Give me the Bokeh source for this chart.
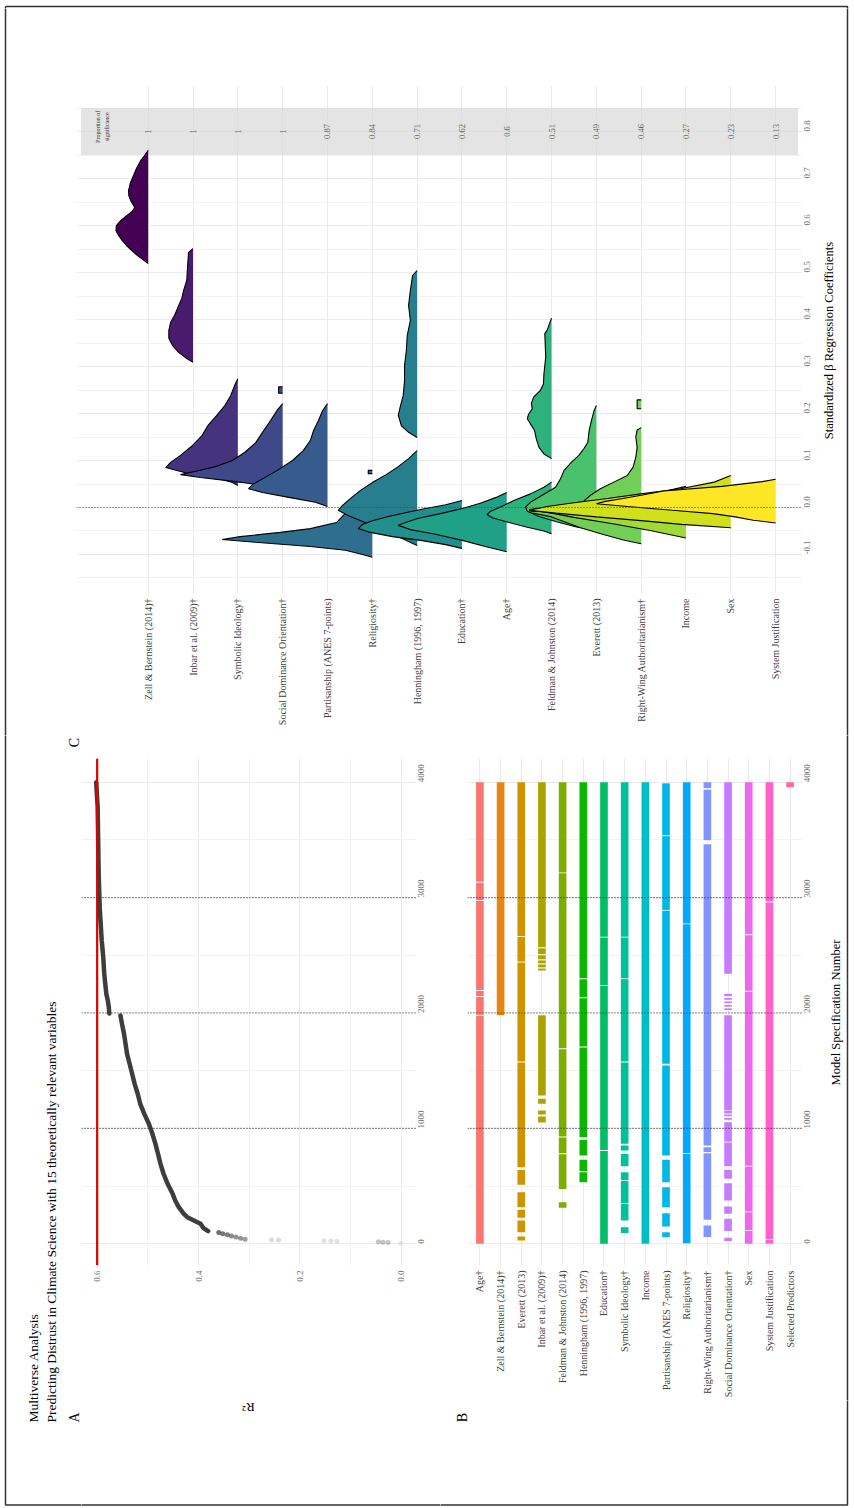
import math
from bokeh.plotting import figure
from bokeh.models import Range1d, FixedTicker, NumeralTickFormatter, Span
from bokeh.layouts import column, row
from bokeh.core.properties import value
from bokeh.embed import file_html
from bokeh.resources import INLINE

NAN = float("nan")
FONT = "Liberation Serif"

# ---------------- Panel A : R2 by model specification ----------------
FULL_MODEL_R2 = 0.60
SPEC_MARKS = [1000, 2000, 3000]
SPEC_TICKS = [0, 1000, 2000, 3000, 4000]
SPEC_MINOR = [500, 1500, 2500, 3500]
R2_TICKS = [0.0, 0.2, 0.4, 0.6]
R2_MINOR = [0.1, 0.3, 0.5]

CURVE1_SPEC = [110, 135, 173, 202, 231, 260, 318, 375, 433, 520, 607, 693, 780, 866,
               953, 1040, 1126, 1213, 1300, 1386, 1473, 1560, 1646, 1733, 1820, 1906, 1978]
CURVE1_R2 = [0.381, 0.390, 0.396, 0.409, 0.422, 0.429, 0.439, 0.446, 0.451, 0.461, 0.469,
             0.475, 0.480, 0.485, 0.491, 0.498, 0.507, 0.515, 0.520, 0.526, 0.531, 0.536,
             0.541, 0.544, 0.547, 0.551, 0.554]
CURVE2_SPEC = [1995, 2050, 2108, 2166, 2253, 2339, 2484, 2628, 2772, 2917, 3061, 3206,
               3494, 3783, 4000]
CURVE2_R2 = [0.576, 0.577, 0.579, 0.582, 0.584, 0.586, 0.588, 0.591, 0.593, 0.595, 0.596,
             0.597, 0.598, 0.599, 0.602]
LOW_SPEC = [98, 88, 78, 68, 58, 48, 40, 36, 33, 27, 25, 22, 17, 14, 11, 5]
LOW_R2 = [0.360, 0.352, 0.343, 0.335, 0.326, 0.317, 0.308, 0.256, 0.242, 0.152, 0.139,
          0.127, 0.045, 0.036, 0.026, 0.001]
LOW_ALPHA = [0.75, 0.7, 0.65, 0.6, 0.55, 0.55, 0.5, 0.18, 0.18, 0.15, 0.15, 0.15, 0.3,
             0.3, 0.3, 0.1]

# ---------------- Panel B : predictors included per specification ----------------
B_NAMES = ["Age†", "Zell & Bernstein (2014)†", "Everett (2013)", "Inbar et al. (2009)†",
           "Feldman & Johnston (2014)", "Henningham (1996, 1997)", "Education†",
           "Symbolic Ideology†", "Income", "Partisanship (ANES 7-points)", "Religiosity†",
           "Right-Wing Authoritarianism†", "Social Dominance Orientation†", "Sex",
           "System Justification", "Selected Predictors"]
B_COLORS = ["#F8766D", "#E68613", "#CD9600", "#ABA300", "#7CAE00", "#0CB702", "#00BE67",
            "#00C19A", "#00BFC4", "#00B8E7", "#00A9FF", "#8494FF", "#C77CFF", "#ED68ED",
            "#FF61CC", "#FF68A1"]
RUNS_AGE = [(0, 1975), (1985, 2138), (2148, 2190), (2200, 2970), (2978, 3128), (3138, 4000)]
RUNS_ZELL = [(1980, 4000)]
RUNS_EVERETT = [(29, 63), (101, 202), (225, 295), (317, 447), (511, 640), (664, 1570),
                (1580, 2438), (2445, 2660), (2668, 4000)]
RUNS_INBAR = [(1050, 1103), (1120, 1155), (1213, 1256), (1285, 1980), (2368, 2385),
              (2395, 2420), (2430, 2455), (2465, 2500), (2510, 2560), (2570, 4000)]
RUNS_FELDMAN = [(312, 361), (475, 775), (785, 920), (930, 1685), (1695, 3210), (3218, 4000)]
RUNS_HENNINGHAM = [(534, 621), (630, 728), (765, 900), (924, 1700), (1710, 2128),
                   (2136, 2292), (2300, 4000)]
RUNS_EDUCATION = [(0, 805), (812, 2235), (2242, 2654), (2661, 4000)]
RUNS_SYMBOLIC = [(93, 144), (202, 345), (352, 545), (552, 621), (672, 779), (808, 852),
                 (866, 1570), (1580, 2293), (2300, 2654), (2661, 4000)]
RUNS_INCOME = [(0, 4000)]
RUNS_PARTISANSHIP = [(58, 101), (150, 265), (317, 491), (534, 728), (765, 1545),
                     (1560, 2885), (2893, 3532), (3540, 3990)]
RUNS_RELIGIOSITY = [(5, 778), (785, 2768), (2776, 4000)]
RUNS_RWA = [(58, 159), (208, 785), (795, 837), (852, 3462), (3497, 3935), (3948, 4000)]
RUNS_SDO = [(24, 53), (110, 217), (260, 323), (375, 525), (563, 641), (673, 878),
            (885, 1054), (1075, 1090), (1105, 1120), (1130, 1155), (1160, 1980),
            (2025, 2040), (2055, 2070), (2085, 2100), (2115, 2130), (2145, 2166),
            (2339, 4000)]
RUNS_SEX = [(0, 114), (120, 273), (279, 670), (676, 2184), (2192, 2674), (2682, 4000)]
RUNS_SYSJUST = [(0, 35), (42, 2958), (2965, 4000)]
RUNS_SELECTED = [(3955, 4000)]
B_RUNS = [RUNS_AGE, RUNS_ZELL, RUNS_EVERETT, RUNS_INBAR, RUNS_FELDMAN, RUNS_HENNINGHAM,
          RUNS_EDUCATION, RUNS_SYMBOLIC, RUNS_INCOME, RUNS_PARTISANSHIP, RUNS_RELIGIOSITY,
          RUNS_RWA, RUNS_SDO, RUNS_SEX, RUNS_SYSJUST, RUNS_SELECTED]

# ---------------- Panel C : coefficient densities ----------------
C_NAMES = ["Zell & Bernstein (2014)†", "Inbar et al. (2009)†", "Symbolic Ideology†",
           "Social Dominance Orientation†", "Partisanship (ANES 7-points)", "Religiosity†",
           "Henningham (1996, 1997)", "Education†", "Age†", "Feldman & Johnston (2014)",
           "Everett (2013)", "Right-Wing Authoritarianism†", "Income", "Sex",
           "System Justification"]
C_COLORS = ["#440154", "#481B6D", "#46337E", "#3F4889", "#365C8D", "#2E6E8E", "#277F8E",
            "#21908C", "#1FA187", "#2DB27D", "#4AC16D", "#71CF57", "#A0DA39", "#D0E11C",
            "#FDE725"]
PROP_SIG = [1, 1, 1, 1, 0.87, 0.84, 0.71, 0.62, 0.6, 0.51, 0.49, 0.46, 0.27, 0.23, 0.13]
BETA_TICKS = [-0.1, 0.0, 0.1, 0.2, 0.3, 0.4, 0.5, 0.6, 0.7, 0.8]
BETA_MINOR = [-0.15, -0.05, 0.05, 0.15, 0.25, 0.35, 0.45, 0.55, 0.65, 0.75, 0.85]

ZELL_B = [0.760, 0.748, 0.738, 0.722, 0.706, 0.690, 0.674, 0.663, 0.653, 0.645, 0.638,
          0.630, 0.621, 0.610, 0.600, 0.589, 0.579, 0.568, 0.557, 0.546, 0.536, 0.527, 0.519]
ZELL_D = [0, 0.09, 0.17, 0.26, 0.33, 0.40, 0.44, 0.43, 0.39, 0.34, 0.30, 0.36, 0.48, 0.62,
          0.71, 0.72, 0.66, 0.58, 0.48, 0.36, 0.24, 0.11, 0]
INBAR_B = [0.551, 0.543, 0.515, 0.483, 0.462, 0.445, 0.430, 0.409, 0.394, 0.377, 0.360,
           0.345, 0.330, 0.317, 0.309]
INBAR_D = [0, 0.10, 0.12, 0.14, 0.21, 0.25, 0.32, 0.41, 0.50, 0.54, 0.54, 0.46, 0.32, 0.14, 0]
SYMB_B = [0.274, 0.260, 0.238, 0.217, 0.196, 0.174, 0.153, 0.132, 0.111, 0.096, 0.085,
          0.074, 0.064, 0.053, 0.047]
SYMB_D = [0, 0.07, 0.16, 0.29, 0.47, 0.67, 0.80, 1.01, 1.28, 1.50, 1.61, 1.17, 0.50, 0.12, 0]
SDO_B = [0.257, 0.257, 0.243, 0.243, NAN, 0.221, 0.206, 0.185, 0.160, 0.138, 0.117, 0.100,
         0.087, 0.077, 0.070, 0.064, 0.055, 0.047, 0.040]
SDO_D = [0, 0.09, 0.09, 0, NAN, 0, 0.13, 0.27, 0.45, 0.60, 0.85, 1.12, 1.50, 1.94, 2.28,
         1.83, 1.05, 0.38, 0]
PART_B = [0.221, 0.206, 0.185, 0.164, 0.143, 0.121, 0.100, 0.079, 0.062, 0.049, 0.040,
          0.032, 0.021, 0.011, 0.002]
PART_D = [0, 0.11, 0.20, 0.31, 0.38, 0.54, 0.78, 1.12, 1.43, 1.67, 1.76, 1.45, 0.83, 0.27, 0]
RELI_B = [0.079, 0.079, 0.072, 0.072, NAN, 0.049, 0.036, 0.019, 0.002, -0.015, -0.032,
          -0.045, -0.053, -0.062, -0.068, -0.074, -0.083, -0.091, -0.100, -0.106]
RELI_D = [0, 0.09, 0.09, 0, NAN, 0, 0.13, 0.31, 0.49, 0.63, 0.80, 1.38, 2.05, 2.95, 3.35,
          2.61, 1.38, 0.60, 0.22, 0]
HENN_B = [0.504, 0.494, 0.462, 0.430, 0.398, 0.366, 0.334, 0.302, 0.270, 0.238, 0.217,
          0.196, 0.174, 0.160, 0.149, NAN, 0.121, 0.104, 0.087, 0.070, 0.053, 0.036,
          0.019, 0.004, -0.006, -0.017, -0.032, -0.049, -0.066, -0.081]
HENN_D = [0, 0.10, 0.15, 0.19, 0.15, 0.22, 0.24, 0.28, 0.28, 0.31, 0.37, 0.42, 0.35, 0.19,
          0, NAN, 0, 0.19, 0.42, 0.69, 1.00, 1.27, 1.49, 1.67, 1.76, 1.54, 1.16, 0.71,
          0.33, 0]
EDUC_B = [0.015, 0.006, -0.002, -0.011, -0.019, -0.028, -0.036, -0.045, -0.053, -0.062,
          -0.070, -0.079, -0.087]
EDUC_D = [0, 0.36, 0.81, 1.26, 1.64, 2.00, 2.22, 2.31, 2.04, 1.55, 0.92, 0.36, 0]
AGE_B = [0.032, 0.021, 0.009, -0.002, -0.013, -0.023, -0.032, -0.038, -0.047, -0.057,
         -0.070, -0.083, -0.094]
AGE_D = [0, 0.25, 0.59, 0.99, 1.48, 1.97, 2.26, 2.42, 2.15, 1.59, 0.99, 0.48, 0]
FELD_B = [0.403, 0.377, 0.370, 0.320, 0.284, 0.263, 0.249, 0.235, 0.221, 0.210, 0.199,
          0.189, 0.178, 0.164, 0.146, 0.128, 0.114, 0.104, NAN, 0.054, 0.043, 0.029,
          0.015, 0.001, -0.008, -0.015, -0.022, -0.031, -0.042, -0.050, -0.056]
FELD_D = [0, 0.10, 0.15, 0.13, 0.17, 0.18, 0.25, 0.40, 0.45, 0.43, 0.51, 0.54, 0.47, 0.38,
          0.34, 0.28, 0.17, 0, NAN, 0, 0.17, 0.47, 0.84, 1.14, 1.36, 1.44, 1.32, 0.99,
          0.54, 0.17, 0]
EVER_B = [0.217, 0.206, 0.185, 0.164, 0.139, 0.125, 0.111, 0.096, 0.079, 0.061, 0.043,
          0.026, 0.011, 0.001, -0.008, -0.019, -0.031, -0.042, -0.047]
EVER_D = [0, 0.05, 0.11, 0.16, 0.19, 0.28, 0.39, 0.56, 0.72, 0.80, 0.91, 1.21, 1.47, 1.58,
          1.54, 1.28, 0.87, 0.42, 0]
RWA_B = [0.229, 0.229, 0.210, 0.210, NAN, 0.170, 0.165, 0.150, 0.128, 0.107, 0.086, 0.068,
         0.054, 0.040, 0.026, 0.012, 0.002, -0.010, -0.020, -0.031, -0.043, -0.056,
         -0.069, -0.077]
RWA_D = [0, 0.09, 0.09, 0, NAN, 0, 0.09, 0.12, 0.09, 0.12, 0.18, 0.31, 0.61, 0.91, 1.13,
         1.30, 1.75, 2.50, 2.00, 1.70, 1.35, 0.90, 0.40, 0]
INC_B = [0.045, 0.036, 0.026, 0.016, 0.008, 0.002, -0.005, -0.012, -0.021, -0.035, -0.049,
         -0.065]
INC_D = [0, 0.40, 0.90, 1.50, 2.20, 3.00, 3.50, 3.00, 2.50, 1.60, 0.80, 0]
SEX_B = [0.068, 0.054, 0.040, 0.029, 0.019, 0.010, 0.002, -0.006, -0.012, -0.020, -0.028,
         -0.036, -0.043]
SEX_D = [0, 0.37, 1.12, 2.01, 2.75, 3.50, 4.10, 4.50, 3.90, 3.00, 2.00, 1.10, 0]
SJ_B = [0.060, 0.055, 0.045, 0.035, 0.026, 0.019, 0.013, 0.008, 0.002, -0.006, -0.013,
        -0.020, -0.027, -0.033]
SJ_D = [0, 0.30, 1.20, 2.50, 3.00, 3.40, 3.80, 4.00, 3.30, 2.30, 1.40, 0.90, 0.50, 0]
C_BETAS = [ZELL_B, INBAR_B, SYMB_B, SDO_B, PART_B, RELI_B, HENN_B, EDUC_B, AGE_B, FELD_B,
           EVER_B, RWA_B, INC_B, SEX_B, SJ_B]
C_DENS = [ZELL_D, INBAR_D, SYMB_D, SDO_D, PART_D, RELI_D, HENN_D, EDUC_D, AGE_D, FELD_D,
          EVER_D, RWA_D, INC_D, SEX_D, SJ_D]

TITLE_1 = "Multiverse Analysis"
TITLE_2 = "Predicting Distrust in Climate Science with 15 theoretically relevant variables"

# page frame (left, top, right, bottom) in page pixels
PAGE_BORDER = (5, 2, 847, 1504.5)


# ---------------- helpers ----------------
def make_fig(w, h, xr, yr, borders):
    l, r, t, b = borders
    p = figure(width=w, height=h, x_range=Range1d(*xr), y_range=Range1d(*yr),
               output_backend="svg", toolbar_location=None, y_axis_location="right",
               min_border_left=l, min_border_right=r, min_border_top=t, min_border_bottom=b)
    p.outline_line_color = None
    p.background_fill_color = "white"
    p.border_fill_color = "white"
    return p


def strip(x0, y0, w, h):
    """A plain figure whose frame covers a page rectangle, in page-pixel units
    (y negated so that it grows upwards)."""
    p = figure(width=w, height=h, x_range=Range1d(x0, x0 + w),
               y_range=Range1d(-(y0 + h), -y0), output_backend="svg",
               toolbar_location=None, x_axis_location=None, y_axis_location=None,
               min_border=0)
    p.grid.visible = False
    p.outline_line_color = None
    p.background_fill_color = "white"
    p.border_fill_color = "white"
    l, t, r, b = PAGE_BORDER
    p.line(x=[l, r, r, l, l], y=[-t, -t, -b, -b, -t], line_color="#333333",
           line_width=1.5)
    return p


def put_text(p, px, py, text, size, angle=math.pi / 2, align="center", color="black"):
    p.text(x=[px], y=[-py], text=[text], angle=angle, text_align=align,
           text_baseline="middle", text_font=value(FONT), text_font_size=size,
           text_color=color)


def style_axis(ax, size="9px", color="#707070"):
    ax.axis_line_color = None
    ax.major_tick_line_color = None
    ax.minor_tick_line_color = None
    ax.major_tick_out = 0
    ax.major_tick_in = 0
    ax.minor_tick_out = 0
    ax.minor_tick_in = 0
    ax.major_label_text_font = FONT
    ax.major_label_text_font_size = size
    ax.major_label_text_color = color
    ax.major_label_standoff = 5
    ax.major_label_orientation = math.pi / 2


def style_grid(g):
    g.grid_line_color = "#EBEBEB"
    g.grid_line_width = 1
    g.minor_grid_line_color = "#F3F3F3"
    g.minor_grid_line_width = 1


def split_nan(a, b):
    segs, cur_a, cur_b = [], [], []
    for u, v in zip(a, b):
        if u != u or v != v:
            if cur_a:
                segs.append((cur_a, cur_b))
            cur_a, cur_b = [], []
        else:
            cur_a.append(u)
            cur_b.append(v)
    if cur_a:
        segs.append((cur_a, cur_b))
    return segs


# ---------------- top strip + Panel C ----------------
top_strip = strip(0, 0, 852, 8)
left_strip = strip(0, 8, 8, 727)

XR_C, YR_C = (-1.6, 14.6), (-0.183, 0.898)
pc = make_fig(810, 727, XR_C, YR_C, (68, 16, 77, 142))
tk_cx = FixedTicker(ticks=list(range(len(C_NAMES))))
pc.xaxis.ticker = tk_cx
pc.xgrid.ticker = tk_cx
pc.xaxis.major_label_overrides = {i: n for i, n in enumerate(C_NAMES)}
tk_cy = FixedTicker(ticks=BETA_TICKS, minor_ticks=BETA_MINOR)
pc.yaxis.ticker = tk_cy
pc.ygrid.ticker = tk_cy
pc.yaxis.formatter = NumeralTickFormatter(format="0.0")
style_axis(pc.xaxis[0], "10px", "#404040")
style_axis(pc.yaxis[0])
style_grid(pc.xgrid[0])
style_grid(pc.ygrid[0])

n_c = len(C_NAMES)
pc.quad(left=[-1.5], right=[n_c - 0.5], bottom=[0.75], top=[0.85],
        fill_color="#D6D6D6", fill_alpha=0.65, line_color=None)
pc.text(x=list(range(n_c)), y=[0.8] * n_c, text=[f"{v:g}" for v in PROP_SIG],
        angle=math.pi / 2, text_align="center", text_baseline="middle",
        text_font=value(FONT), text_font_size="8.5px", text_color="#606060")
pc.text(x=[-1.13, -0.91], y=[0.81, 0.81], text=["Proportion of", "significance"],
        angle=math.pi / 2, text_align="center", text_baseline="middle",
        text_font=value(FONT), text_font_size="6px", text_color="#333333")

for i in range(n_c):
    segs = split_nan(C_BETAS[i], C_DENS[i])
    xs = [[i - h for h in seg[1]] for seg in segs]
    ys = [seg[0] for seg in segs]
    pc.patches(xs=xs, ys=ys, fill_color=C_COLORS[i], fill_alpha=1.0, line_color=None)
    pc.multi_line(xs=xs, ys=ys, line_color="black", line_width=1.1)

pc.add_layout(Span(location=0, dimension="width", line_color="#444444",
                   line_dash="1 2", line_width=1.2))

right_strip_c = strip(818, 8, 34, 727)
put_text(right_strip_c, 828, 340, "Standardized β Regression Coefficients", "12.5px")

# ---------------- left strip with title and panel letters ----------------
title_strip = strip(0, 735, 81, 771)
put_text(title_strip, 33, 1422, TITLE_1, "13.5px", align="left")
put_text(title_strip, 51, 1422, TITLE_2, "13.5px", align="left")
put_text(title_strip, 74, 1417, "A", "14px")
put_text(title_strip, 74, 742, "C", "14px")

# ---------------- Panel A ----------------
XR_A, YR_A = (0.6309, -0.0302), (-188, 4205)
pa = make_fig(359, 557, XR_A, YR_A, (0, 24, 23, 27))
tk_ax = FixedTicker(ticks=R2_TICKS, minor_ticks=R2_MINOR)
pa.xaxis.ticker = tk_ax
pa.xgrid.ticker = tk_ax
pa.xaxis.formatter = NumeralTickFormatter(format="0.0")
tk_ay = FixedTicker(ticks=SPEC_TICKS, minor_ticks=SPEC_MINOR)
pa.yaxis.ticker = tk_ay
pa.ygrid.ticker = tk_ay
pa.yaxis.formatter = NumeralTickFormatter(format="0")
style_axis(pa.xaxis[0])
style_axis(pa.yaxis[0])
style_grid(pa.xgrid[0])
style_grid(pa.ygrid[0])

pa.scatter(x=LOW_R2, y=LOW_SPEC, size=5, fill_color="#3D3D3D", line_color=None,
           fill_alpha=LOW_ALPHA)
pa.line(x=CURVE1_R2, y=CURVE1_SPEC, line_color="#3D3D3D", line_width=4.5,
        line_cap="round", line_join="round")
pa.line(x=CURVE2_R2, y=CURVE2_SPEC, line_color="#3D3D3D", line_width=4.5,
        line_cap="round", line_join="round")
for m in SPEC_MARKS:
    pa.add_layout(Span(location=m, dimension="width", line_color="#333333",
                       line_dash="1 2", line_width=1.2))
pa.add_layout(Span(location=FULL_MODEL_R2, dimension="height", line_color="#E00000",
                   line_width=2.2))

a_below = strip(81, 1292, 359, 214)
put_text(a_below, 248, 1407, "R²", "13px", angle=math.pi)

# ---------------- Panel B ----------------
XR_B, YR_B = (-0.6, 15.6), (-188, 4205)
pb = make_fig(378, 665, XR_B, YR_B, (27, 16, 23, 135))
tk_bx = FixedTicker(ticks=list(range(len(B_NAMES))))
pb.xaxis.ticker = tk_bx
pb.xgrid.ticker = tk_bx
pb.xaxis.major_label_overrides = {i: n for i, n in enumerate(B_NAMES)}
pb.yaxis.ticker = tk_ay
pb.ygrid.ticker = tk_ay
pb.yaxis.formatter = NumeralTickFormatter(format="0")
style_axis(pb.xaxis[0], "10px", "#404040")
style_axis(pb.yaxis[0])
style_grid(pb.xgrid[0])
style_grid(pb.ygrid[0])

bx, bb, bt, bc = [], [], [], []
for i, runs in enumerate(B_RUNS):
    for s, e in runs:
        bx.append(i)
        bb.append(s)
        bt.append(e)
        bc.append(B_COLORS[i])
pb.vbar(x=bx, width=0.37, bottom=bb, top=bt, fill_color=bc, line_color=None)
for m in SPEC_MARKS:
    pb.add_layout(Span(location=m, dimension="width", line_color="#333333",
                       line_dash="1 2", line_width=1.2))

b_right = strip(818, 735, 34, 665)
put_text(b_right, 835, 1012, "Model Specification Number", "12.5px")
b_below = strip(440, 1400, 412, 106)
put_text(b_below, 462, 1417, "B", "14px")

# ---------------- layout ----------------
root = column(
    top_strip,
    row(column(left_strip), column(pc), column(right_strip_c)),
    row(column(title_strip),
        column(column(pa), column(a_below)),
        column(row(column(pb), column(b_right)), column(b_below))),
)

open("out.html", "w").write(file_html(root, INLINE))
